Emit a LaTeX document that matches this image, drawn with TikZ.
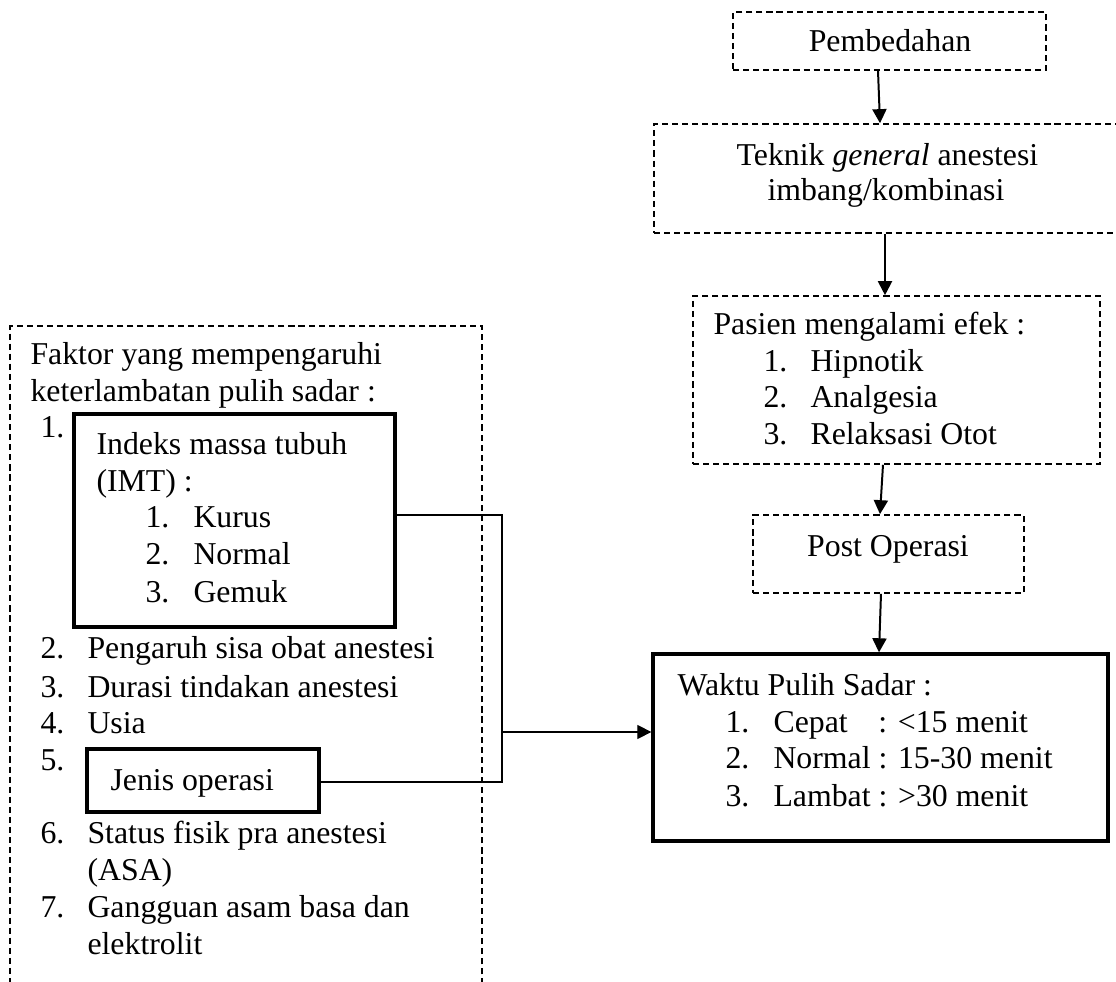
\documentclass[tikz,border=0pt]{standalone}
\usepackage{fontspec}
\setmainfont{Liberation Serif}
\usetikzlibrary{arrows.meta,calc}
\tikzset{
  dbox/.style={draw, line width=0.6pt, dash pattern=on 2.3pt off 1.5pt, inner sep=0pt},
  tbox/.style={draw, line width=1.25pt, inner sep=0pt},
  txt/.style={inner sep=0pt, anchor=base west, font=\fontsize{12}{13.8}\selectfont},
  ctxt/.style={inner sep=0pt, anchor=base, font=\fontsize{12}{13.8}\selectfont},
  arr/.style={line width=0.75pt, -{Triangle[length=5.3pt,width=5.3pt]}},
  harr/.style={line width=0.5pt, -{Triangle[length=5.3pt,width=5.3pt]}},
  conn/.style={line width=0.5pt}
}
\begin{document}
\begin{tikzpicture}[x=0.37735pt, y=-0.37735pt]
\useasboundingbox (0,0) rectangle (1116,982);
\clip (0,0) rectangle (1116,982);
% boxes
\node[dbox, minimum width=313*0.37735pt, minimum height=58*0.37735pt] (pemb) at (889.5,41) {};
\node[dbox, minimum width=466*0.37735pt, minimum height=109*0.37735pt] (tek) at (887,178.5) {};
\node[dbox, minimum width=407*0.37735pt, minimum height=168*0.37735pt] (pas) at (896.5,380) {};
\node[dbox, minimum width=271*0.37735pt, minimum height=78*0.37735pt] (post) at (888.5,554) {};
\node[tbox, minimum width=455*0.37735pt, minimum height=187*0.37735pt] (waktu) at (880.5,747.5) {};
\node[dbox, minimum width=472*0.37735pt, minimum height=700*0.37735pt] (faktor) at (246,676) {};
\node[tbox, minimum width=321*0.37735pt, minimum height=213*0.37735pt] (imt) at (234.5,520.5) {};
\node[tbox, minimum width=232*0.37735pt, minimum height=63*0.37735pt] (jenis) at (203,780.5) {};
% right texts
\node[ctxt] (tpemb) at (890,52) {Pembedahan};
\node[ctxt] (ttek1) at (887.5,166) {Teknik \textit{general} anestesi};
\node[ctxt] (ttek2) at (886,201) {imbang/kombinasi};
\node[txt] (tpas) at (713,335) {Pasien mengalami efek :};
\node[txt] (tpn1) at (763,372) {1.};
\node[txt] (tpi1) at (810,372) {Hipnotik};
\node[txt] (tpn2) at (763,408) {2.};
\node[txt] (tpi2) at (810,408) {Analgesia};
\node[txt] (tpn3) at (763,445) {3.};
\node[txt] (tpi3) at (810,445) {Relaksasi Otot};
\node[ctxt] (tpost) at (888,557) {Post Operasi};
\node[txt] (twak) at (677,695) {Waktu Pulih Sadar :};
\node[txt] (twn1) at (725,732) {1.};
\node[txt] (twi1) at (773,732) {\makebox[39.6pt][l]{Cepat}: <15 menit};
\node[txt] (twn2) at (725,768) {2.};
\node[txt] (twi2) at (773,768) {Normal : 15-30 menit};
\node[txt] (twn3) at (725,806) {3.};
\node[txt] (twi3) at (773,806) {Lambat : >30 menit};
% left texts
\node[txt] (tf1) at (30,365) {Faktor yang mempengaruhi};
\node[txt] (tf2) at (30,402) {keterlambatan pulih sadar :};
\node[txt] (tn1) at (40,438) {1.};
\node[txt] (timt1) at (96,455) {Indeks massa tubuh};
\node[txt] (timt2) at (96,492) {(IMT) :};
\node[txt] (tin1) at (145,528) {1.};
\node[txt] (tii1) at (193,528) {Kurus};
\node[txt] (tin2) at (145,565) {2.};
\node[txt] (tii2) at (193,565) {Normal};
\node[txt] (tin3) at (145,603) {3.};
\node[txt] (tii3) at (193,603) {Gemuk};
\node[txt] (tn2) at (40,659) {2.};
\node[txt] (ti2) at (87,659) {Pengaruh sisa obat anestesi};
\node[txt] (tn3) at (40,697) {3.};
\node[txt] (ti3) at (87,697) {Durasi tindakan anestesi};
\node[txt] (tn4) at (40,733) {4.};
\node[txt] (ti4) at (87,733) {Usia};
\node[txt] (tn5) at (40,770) {5.};
\node[txt] (tjen) at (110,791) {Jenis operasi};
\node[txt] (tn6) at (40,843) {6.};
\node[txt] (ti6a) at (87,843) {Status fisik pra anestesi};
\node[txt] (ti6b) at (87,880) {(ASA)};
\node[txt] (tn7) at (40,917) {7.};
\node[txt] (ti7a) at (87,917) {Gangguan asam basa dan};
\node[txt] (ti7b) at (87,954) {elektrolit};
% vertical arrows
\draw[arr] ($(pemb.south)+(-11.5,0)$) -- ($(tek.north)+(-7,0)$);
\draw[arr] ($(tek.south)+(-2,0)$) -- ($(pas.north)+(-11.5,0)$);
\draw[arr] ($(pas.south)+(-13.5,0)$) -- ($(post.north)+(-8.5,0)$);
\draw[arr] ($(post.south)+(-7.5,0)$) -- ($(waktu.north)+(-1.5,0)$);
% merge connector
\coordinate (j1) at (502,515);
\coordinate (j2) at (502,782);
\coordinate (j3) at (502,732);
\draw[conn] (imt.east |- j1) -- (j1) -- (j2) -- (jenis.east |- j2);
\draw[harr] (j3) -- (waktu.west |- j3);
\end{tikzpicture}
\end{document}
